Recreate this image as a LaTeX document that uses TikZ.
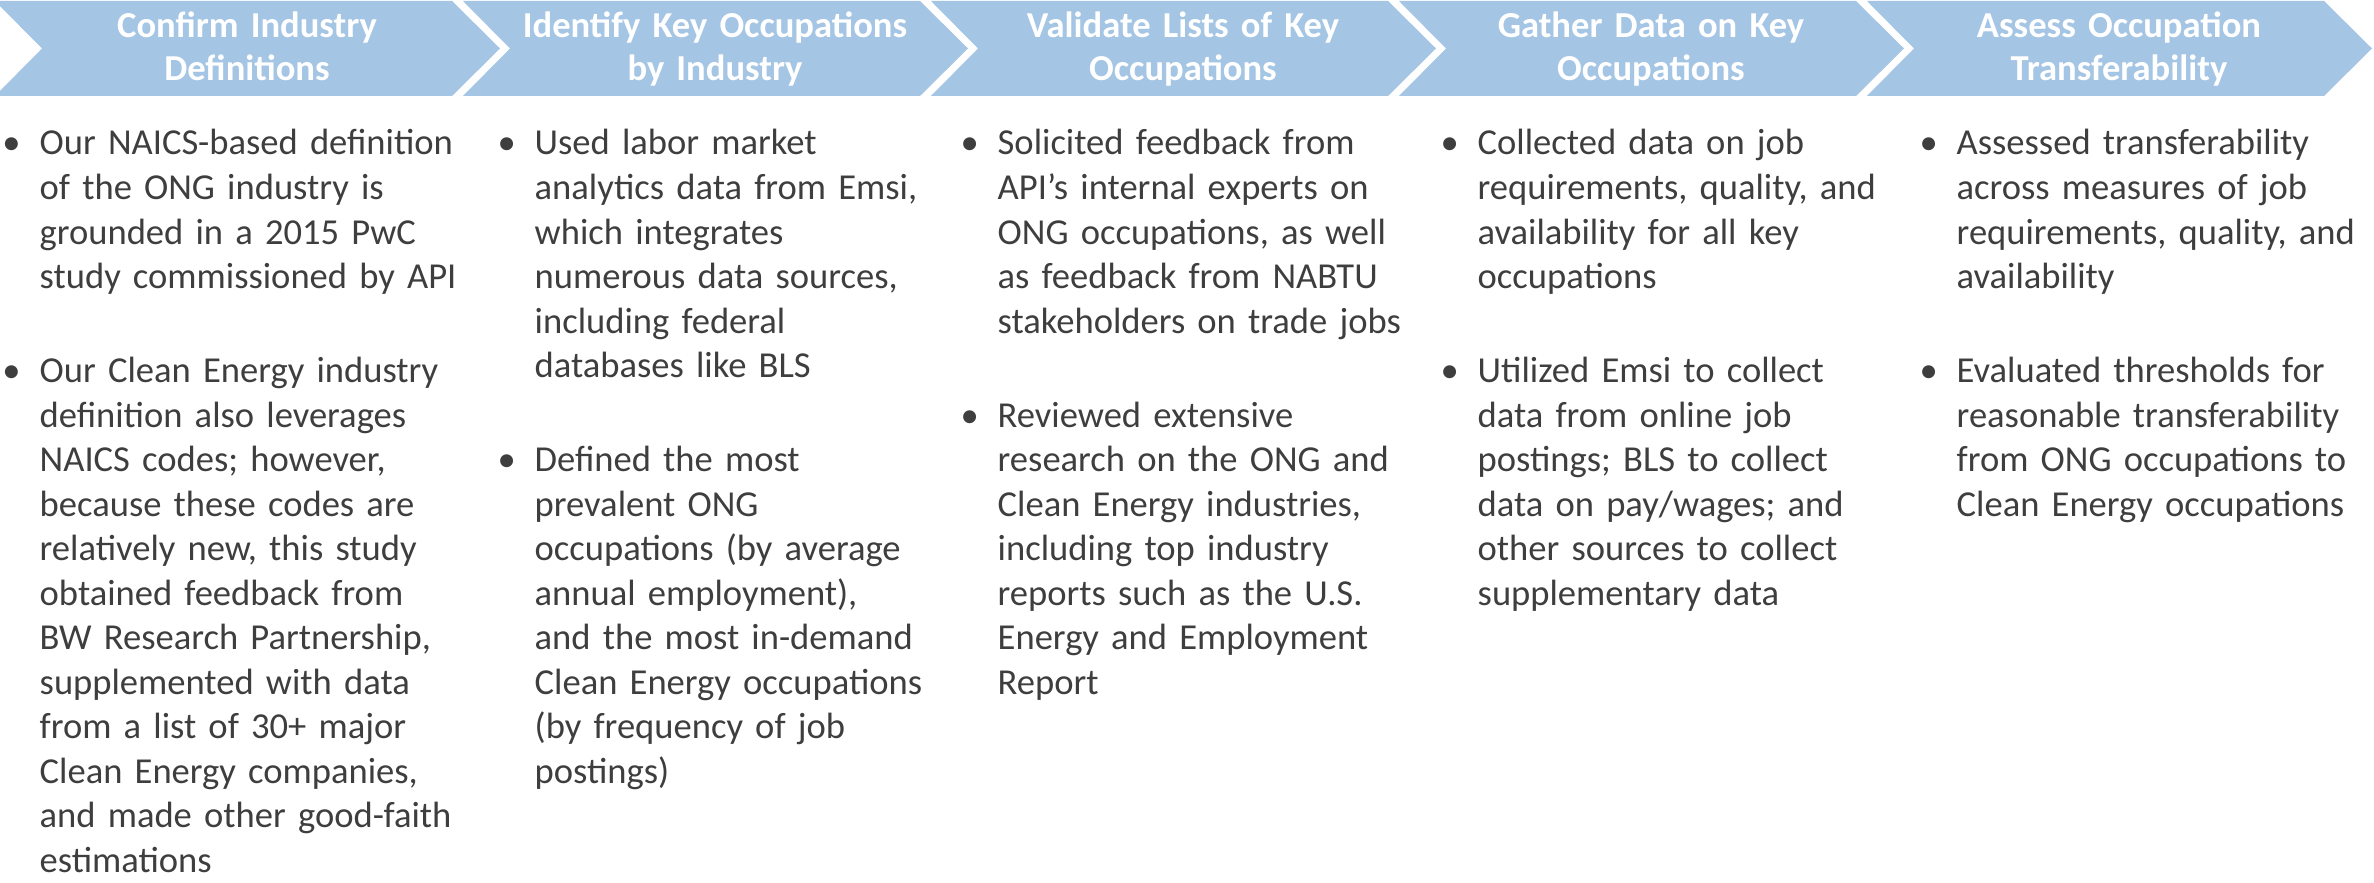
\documentclass[tikz,border=0pt]{standalone}
\usepackage{fontspec}
\setmainfont{Carlito}
\usepackage{pgf,tikz}
\usepackage{xcolor}

\definecolor{stepblue}{RGB}{164,197,228}
\definecolor{bodygrey}{RGB}{62,62,62}
\newcommand{\bpt}{\leavevmode\llap{\textbullet\hspace{5.4pt}}}

\tikzset{
	head/.style = {text = white, font = \fontsize{10.4pt}{11.95pt}\selectfont\bfseries,
		text width = 4.4cm, align = center, anchor = base, inner sep = 0pt},
	body/.style = {text = bodygrey, font = \fontsize{10.4pt}{12.66pt}\selectfont,
		text width = 4.6cm, align = left, anchor = base west, inner sep = 0pt}
}

\begin{document}
\begin{tikzpicture}[x = 0.01cm, y = -0.01cm]
	    \useasboundingbox (0,0) rectangle (2374,883);
	    \fill[stepblue] (-5,1) -- (452,1) -- (500,48.5) -- (452,96) -- (-5,96) -- (42,48.5) -- cycle;
	    \fill[stepblue] (463,1) -- (920,1) -- (968,48.5) -- (920,96) -- (463,96) -- (510,48.5) -- cycle;
	    \fill[stepblue] (931,1) -- (1388,1) -- (1436,48.5) -- (1388,96) -- (931,96) -- (978,48.5) -- cycle;
	    \fill[stepblue] (1399,1) -- (1856,1) -- (1904,48.5) -- (1856,96) -- (1399,96) -- (1446,48.5) -- cycle;
	    \fill[stepblue] (1867,1) -- (2324,1) -- (2372,48.5) -- (2324,96) -- (1867,96) -- (1914,48.5) -- cycle;
	    \node[head] (h_1) at (247,38) {Confirm Industry\\Definitions};
	    \node[head] (h_2) at (715,38) {Identify Key Occupations\\by Industry};
	    \node[head] (h_3) at (1183,38) {Validate Lists of Key\\Occupations};
	    \node[head] (h_4) at (1651,38) {Gather Data on Key\\Occupations};
	    \node[head] (h_5) at (2119,38) {Assess Occupation\\Transferability};
	    \node[body] (t_1) at (39,155) {\bpt Our NAICS-based definition\\of the ONG industry is\\grounded in a 2015 PwC\\study commissioned by API\\[14.08pt]%
	        \bpt Our Clean Energy industry\\definition also leverages\\NAICS codes; however,\\because these codes are\\relatively new, this study\\obtained feedback from\\BW Research Partnership,\\supplemented with data\\from a list of 30+ major\\Clean Energy companies,\\and made other good-faith\\estimations};
	    \node[body] (t_2) at (534,155) {\bpt Used labor market\\analytics data from Emsi,\\which integrates\\numerous data sources,\\including federal\\databases like BLS\\[14.08pt]%
	        \bpt Defined the most\\prevalent ONG\\occupations (by average\\annual employment),\\and the most in-demand\\Clean Energy occupations\\(by frequency of job\\postings)};
	    \node[body] (t_3) at (997,155) {\bpt Solicited feedback from\\API’s internal experts on\\ONG occupations, as well\\as feedback from NABTU\\stakeholders on trade jobs\\[14.08pt]%
	        \bpt Reviewed extensive\\research on the ONG and\\Clean Energy industries,\\including top industry\\reports such as the U.S.\\Energy and Employment\\Report};
	    \node[body] (t_4) at (1477,155) {\bpt Collected data on job\\requirements, quality, and\\availability for all key\\occupations\\[14.08pt]%
	        \bpt Utilized Emsi to collect\\data from online job\\postings; BLS to collect\\data on pay/wages; and\\other sources to collect\\supplementary data};
	    \node[body] (t_5) at (1956,155) {\bpt Assessed transferability\\across measures of job\\requirements, quality, and\\availability\\[14.08pt]%
	        \bpt Evaluated thresholds for\\reasonable transferability\\from ONG occupations to\\Clean Energy occupations};
	\end{tikzpicture}
\end{document}
